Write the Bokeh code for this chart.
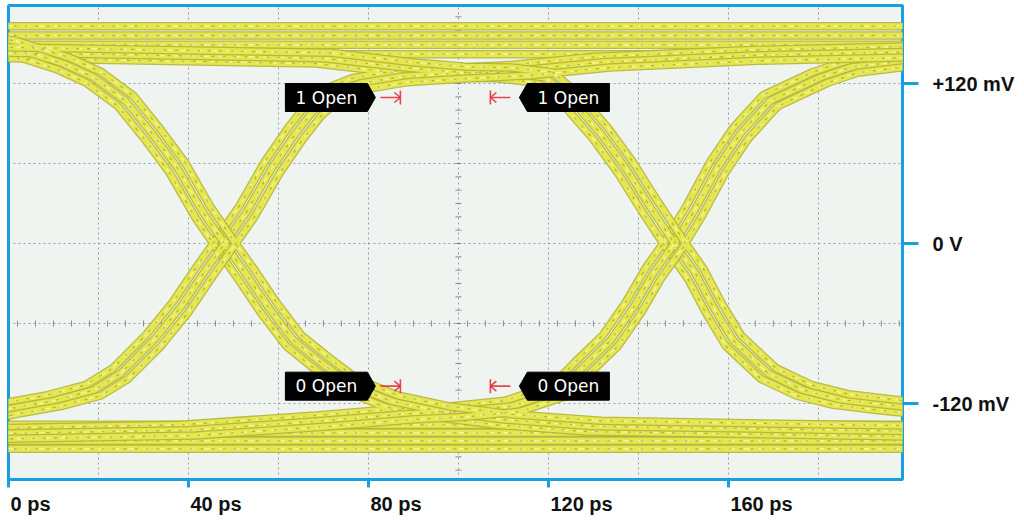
import numpy as np
from bokeh.plotting import figure
from bokeh.models import FixedTicker, Range1d, LinearAxis
from bokeh.embed import file_html
from bokeh.resources import INLINE
from bokeh.core.properties import value

# ---------------- data (time in ps, level in mV) ----------------
x_ticks_ps = [0, 40, 80, 120, 160]
x_tick_labels = ["0 ps", "40 ps", "80 ps", "120 ps", "160 ps"]
y_ticks_mv = [120, 0, -120]
y_tick_labels = ["+120 mV", "0 V", "-120 mV"]
grid_x_ps = [20, 40, 60, 80, 100, 120, 140, 160, 180]
grid_y_mv = [-120, -60, 0, 60, 120]

# steady "1" and "0" levels (several overlapping acquisitions)
high_levels_mv = [163, 156, 149, 142]
low_levels_mv = [-136, -142, -148, -154]

# transition traces
fall1_ps = [-10, 0, 12.2, 19, 26, 31.9, 37.5, 43.3, 48, 52.7, 57.8, 63.4, 69.7, 76, 84.9, 96, 110, 130, 205]
fall1_mv = [153, 148, 135, 124.5, 107, 82.5, 57, 23, 0, -22.5, -48, -72.8, -90, -106, -118, -126, -132, -137, -141]

rise1_ps = [-10, 0, 10, 18.9, 24.9, 32.2, 38.2, 43.3, 48, 52.8, 58.6, 63.8, 67.8, 72, 78, 87, 99, 114, 132, 165, 205]
rise1_mv = [-131, -124, -118, -110, -97.5, -72.8, -48, -22.5, 0, 23, 57, 82.5, 99.8, 112, 120, 125, 127.5, 130, 136, 141, 144]

fall2_ps = [-10, 0, 70, 88, 100, 110, 119.3, 125.3, 131.6, 137.1, 142.7, 148, 152.7, 156.7, 161.1, 168.9, 176.7, 185, 195, 210]
fall2_mv = [144, 143, 139, 132, 128.5, 128, 124.5, 107, 82.5, 57, 27, 0, -22.5, -48, -72.8, -97.5, -110, -117, -121, -126]

rise2_ps = [-10, 40, 70, 88, 100, 112, 122.7, 127.6, 133.8, 138.9, 143.3, 148, 152.5, 157.6, 162.7, 169.3, 180.4, 187, 199, 210]
rise2_mv = [-143, -140, -133, -128, -126, -122, -110, -93, -72.8, -48, -22.5, 0, 25, 57, 82.5, 107, 124.5, 132, 137, 140]

# spread of the overlapping acquisitions around each edge
edge_jitter_ps = [-1.7, 0.0, 1.7]
edge_jitter_mv = [4.0, 0.0, -4.0]

# eye-opening markers
eye_open_labels = ["1 Open", "0 Open"]
eye_open_levels_mv = [109.5, -107]
eye_open_edges_ps = [87.1, 107.1]

# ---------------- figure ----------------
X_MIN, X_MAX = 0, 198.7
Y_MIN, Y_MAX = -177.0, 178.5
FRAME_L, FRAME_T = 8, 5
FRAME_W, FRAME_H = 894, 474
FIG_W, FIG_H = 1020, 518
PX_PER_PS = FRAME_W / (X_MAX - X_MIN)
PX_PER_MV = FRAME_H / (Y_MAX - Y_MIN)

BLUE = "#169fe3"
p = figure(width=FIG_W, height=FIG_H, x_range=Range1d(X_MIN, X_MAX), y_range=Range1d(Y_MIN, Y_MAX),
           y_axis_location="right", output_backend="svg", toolbar_location=None,
           min_border_left=FRAME_L, min_border_top=FRAME_T,
           min_border_right=FIG_W - FRAME_L - FRAME_W,
           min_border_bottom=FIG_H - FRAME_T - FRAME_H)
p.background_fill_color = "#f0f4f1"
p.border_fill_color = "white"
p.outline_line_color = BLUE
p.outline_line_width = 3

# grid
p.xgrid.ticker = FixedTicker(ticks=grid_x_ps)
p.ygrid.ticker = FixedTicker(ticks=grid_y_mv)
for g in (p.xgrid, p.ygrid):
    g.grid_line_color = "#7f868a"
    g.grid_line_dash = "2 3"
    g.grid_line_width = 1
    g.grid_line_alpha = 0.75

# graticule minor ticks on the crosshair lines
hx = np.arange(2, X_MAX, 4.0)
p.scatter(hx, np.full(len(hx), -60.0), marker="dash", angle=np.pi / 2, size=6,
          line_color="#6f7679", line_width=1, line_alpha=0.8)
vy = np.arange(-170, Y_MAX, 10.0)
p.scatter(np.full(len(vy), 100.0), vy, marker="dash", size=6,
          line_color="#6f7679", line_width=1, line_alpha=0.8)

# axes
FONT = "Liberation Sans"
ax = p.xaxis[0]                      # blue tick marks only
ax.ticker = FixedTicker(ticks=x_ticks_ps)
ax.major_label_overrides = {t: "" for t in x_ticks_ps}
ax.major_label_standoff = 0
ay = p.yaxis[0]
ay.ticker = FixedTicker(ticks=y_ticks_mv)
ay.major_label_overrides = {t: l for t, l in zip(y_ticks_mv, y_tick_labels)}
ay.major_label_standoff = 14
for a, tick_out in ((ax, 8), (ay, 16)):
    a.axis_line_color = None
    a.major_tick_in = 0
    a.major_tick_out = tick_out
    a.major_tick_line_color = BLUE
    a.major_tick_line_width = 3
    a.minor_tick_line_color = None
    a.major_label_text_font = FONT
    a.major_label_text_font_style = "bold"
    a.major_label_text_font_size = "20px"
    a.major_label_text_color = "#111111"

# x tick labels start at their tick (left aligned): a label-only axis whose label
# centres sit half a label width to the right of each tick
CHAR_EM = {"0": .556, "1": .556, "2": .556, "4": .556, "6": .556, "8": .556,
           " ": .278, "p": .611, "s": .556}
label_centres = [t + (2 + 10 * sum(CHAR_EM[c] for c in lab)) / PX_PER_PS
                 for t, lab in zip(x_ticks_ps, x_tick_labels)]
ax2 = LinearAxis(ticker=FixedTicker(ticks=label_centres),
                 major_label_overrides={c: lab for c, lab in zip(label_centres, x_tick_labels)})
ax2.axis_line_color = None
ax2.major_tick_line_color = None
ax2.major_tick_in = 0
ax2.major_tick_out = 0
ax2.minor_tick_line_color = None
ax2.major_label_standoff = 5
ax2.major_label_text_font = FONT
ax2.major_label_text_font_style = "bold"
ax2.major_label_text_font_size = "20px"
ax2.major_label_text_color = "#111111"
p.add_layout(ax2, "below")

# ---------------- traces ----------------
edges = [(fall1_ps, fall1_mv, -1), (rise1_ps, rise1_mv, 1),
         (fall2_ps, fall2_mv, -1), (rise2_ps, rise2_mv, 1)]
strand_sets = []
for j in range(len(edge_jitter_ps)):
    xs, ys = [], []
    for ex, ey, direction in edges:
        xs.append([v + edge_jitter_ps[j] for v in ex])
        ys.append([v + direction * edge_jitter_mv[j] for v in ey])
    strand_sets.append((xs, ys))
band_xs = [[-10, 210] for _ in high_levels_mv + low_levels_mv]
band_ys = [[lv, lv] for lv in high_levels_mv + low_levels_mv]
strand_sets.insert(0, (band_xs, band_ys))

for xs, ys in strand_sets:
    p.multi_line(xs, ys, line_color="#b2b33a", line_width=8.5, line_alpha=0.9)
    p.multi_line(xs, ys, line_color="#e5e74e", line_width=6)
    p.multi_line(xs, ys, line_color="#f4f5a6", line_width=1.6, line_dash="6 9", line_alpha=0.85)
    p.multi_line(xs, ys, line_color="#8d8d24", line_width=1.3, line_dash="3 8", line_dash_offset=5,
                 line_alpha=0.55)

# ---------------- eye-opening annotations ----------------
RED = "#e5323e"
left_edge, right_edge = eye_open_edges_ps
tip_gap_l, tip_gap_r, depth, box_w, half_h = 25, 29, 8, 82, 14
for lvl, lab in zip(eye_open_levels_mv, eye_open_labels):
    dy = half_h / PX_PER_MV
    tip = left_edge - tip_gap_l / PX_PER_PS
    b1 = tip - depth / PX_PER_PS
    b0 = b1 - box_w / PX_PER_PS
    tip2 = right_edge + tip_gap_r / PX_PER_PS
    c0 = tip2 + depth / PX_PER_PS
    c1 = c0 + box_w / PX_PER_PS
    p.patches([[b0, b1, tip, b1, b0], [c1, c0, tip2, c0, c1]],
              [[lvl - dy, lvl - dy, lvl, lvl + dy, lvl + dy], [lvl - dy, lvl - dy, lvl, lvl + dy, lvl + dy]],
              fill_color="black", line_color="black")
    p.text([(b0 + b1) / 2, (c0 + c1) / 2], [lvl, lvl], text=[lab, lab], text_color="white",
           text_font=value("DejaVu Sans"), text_font_size="17px", text_align="center",
           text_baseline="middle")
    arm = 20 / PX_PER_PS
    bar = 7 / PX_PER_MV
    hx_ = 6 / PX_PER_PS
    hy_ = 5 / PX_PER_MV
    p.segment([left_edge - arm, left_edge, left_edge - hx_, left_edge - hx_,
               right_edge, right_edge, right_edge + hx_, right_edge + hx_],
              [lvl, lvl - bar, lvl + hy_, lvl - hy_, lvl, lvl - bar, lvl + hy_, lvl - hy_],
              [left_edge, left_edge, left_edge, left_edge,
               right_edge + arm, right_edge, right_edge, right_edge],
              [lvl, lvl + bar, lvl, lvl, lvl, lvl + bar, lvl, lvl],
              line_color=RED, line_width=1.6, line_alpha=0.9)

open("out.html", "w").write(file_html(p, INLINE))
